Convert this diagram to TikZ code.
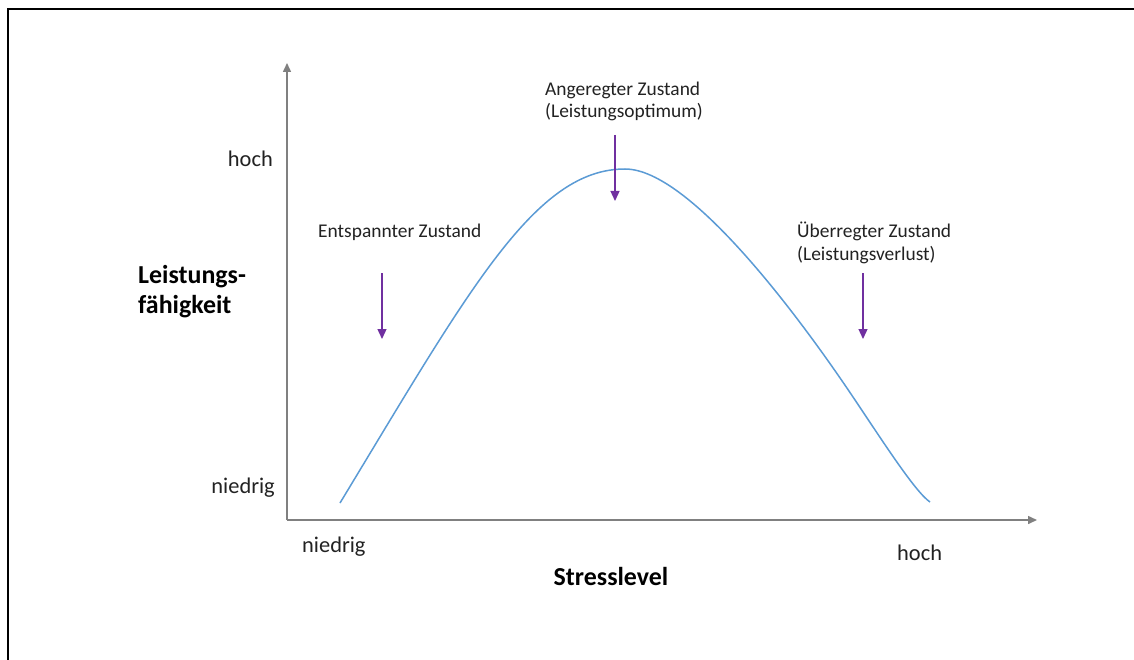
\documentclass[tikz,border=0pt]{standalone}
\usepackage{fontspec}
\setmainfont{Carlito}
\usetikzlibrary{arrows.meta}
\definecolor{axisgray}{HTML}{808080}
\definecolor{curveblue}{HTML}{5B9BD5}
\definecolor{markpurple}{HTML}{7030A0}
\definecolor{txt}{HTML}{222222}
\begin{document}
\begin{tikzpicture}[x=1bp,y=-1bp,
  axis/.style={draw=axisgray,line width=1.5bp,-{Triangle[width=8bp,length=9bp]}},
  marker/.style={draw=markpurple,line width=1.3bp,-{Triangle[width=9bp,length=10bp]}},
  note/.style={inner sep=0pt,text=txt,font=\fontsize{19.5}{23}\selectfont,align=left},
  level/.style={inner sep=0pt,text=txt,font=\fontsize{22.5}{26}\selectfont},
  axtitle/.style={inner sep=0pt,text=black,font=\bfseries\fontsize{26}{30}\selectfont,align=left}]
\useasboundingbox (0,0) rectangle (1134,660);
\fill[white] (0,0) rectangle (1134,660);
% outer frame (top and left edges visible)
\draw[black,line width=2.2bp] (8,700) -- (8,9) -- (1160,9);

% axes
\coordinate (origin) at (287,520);
\coordinate (ytip) at (287,63);
\coordinate (xtip) at (1037,520);
\draw[axis] (origin) -- (ytip);
\draw[axis] (origin) -- (xtip);

% performance curve: rise, peak, decline
\draw[curveblue,line width=1.5bp]
  (340,503) .. controls (470,288.5) and (535,169) .. (625,169)
  .. controls (690,169) and (800,318) .. (853,397)
  .. controls (880,437) and (915,492) .. (930,502);

% axis levels
\node[level,anchor=base east] (yhigh) at (273,166.5) {hoch};
\node[level,anchor=base east] (ylow) at (275,493) {niedrig};
\node[level,anchor=base west] (xlow) at (302,552) {niedrig};
\node[level,anchor=base west] (xhigh) at (897,560) {hoch};

% axis titles (base anchor sits on the last line)
\node[axtitle,anchor=base west] (ytitle) at (138,313) {Leistungs-\\fähigkeit};
\node[axtitle,anchor=base] (xtitle) at (611,585) {Stresslevel};

% states
\node[note,anchor=base west] (relaxed) at (318,237) {Entspannter Zustand};
\node[note,anchor=base west] (optimum) at (545,118) {Angeregter Zustand\\(Leistungsoptimum)};
\node[note,anchor=base west] (over) at (797,260) {Überregter Zustand\\(Leistungsverlust)};

% state markers
\coordinate (m1a) at (382,273); \coordinate (m1b) at (382,339);
\coordinate (m2a) at (615,135); \coordinate (m2b) at (615,201);
\coordinate (m3a) at (863,273); \coordinate (m3b) at (863,339);
\draw[marker] (m1a) -- (m1b);
\draw[marker] (m2a) -- (m2b);
\draw[marker] (m3a) -- (m3b);
\end{tikzpicture}
\end{document}
